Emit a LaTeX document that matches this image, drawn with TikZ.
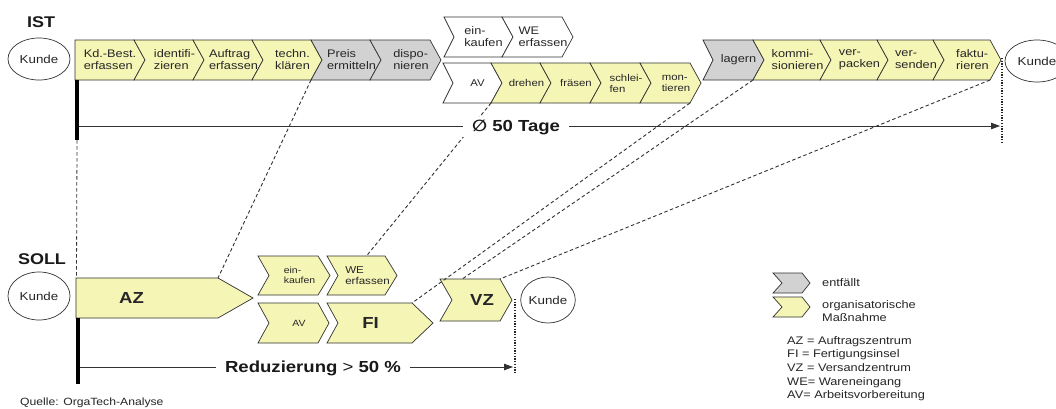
\documentclass[tikz,border=0pt]{standalone}
\usepackage{fontspec}
\setmainfont{Liberation Sans}[FakeStretch=1.16]
\newfontfamily\symfont{DejaVu Sans}[FakeStretch=1.1]
\usetikzlibrary{arrows.meta,calc,shapes.geometric}
\definecolor{chevY}{RGB}{245,245,182}
\definecolor{chevG}{RGB}{210,210,210}
\definecolor{edgeC}{RGB}{50,50,50}
% #1 name, #2 x left, #3 x right, #4 y centre, #5 half height, #6 tip depth, #7 notch depth, #8 style, #9 text
\newcommand{\mkchev}[9]{%
  \coordinate (#1-tl) at (#2,#4-#5);
  \coordinate (#1-tr) at (#3,#4-#5);
  \coordinate (#1-tip) at (#3+#6,#4);
  \coordinate (#1-br) at (#3,#4+#5);
  \coordinate (#1-bl) at (#2,#4+#5);
  \coordinate (#1-in) at (#2+#7,#4);
  \draw[#8] (#1-tl) -- (#1-tr) -- (#1-tip) -- (#1-br) -- (#1-bl) -- (#1-in) -- cycle;
  \node[ctext] (#1) at ($(#1-in)!0.5!(#1-tip)$) {#9};
}
\begin{document}
\begin{tikzpicture}[x=1pt,y=-1pt,
  chev/.style={draw=edgeC, line width=0.7pt, line join=miter},
  yel/.style={chev, fill=chevY},
  gry/.style={chev, fill=chevG},
  wht/.style={chev, fill=white},
  chevfont/.style={font=\fontsize{11}{12}\selectfont},
  ctextpos/.style={},
  ctext/.style={chevfont, ctextpos, align=left, inner sep=0pt, text=black!85},
  kunde/.style={draw=edgeC, line width=0.7pt, ellipse, inner sep=0pt, text=black!85, font=\fontsize{11.5}{13}\selectfont},
  conn/.style={draw=edgeC, line width=0.9pt, dash pattern=on 3.5pt off 2.5pt},
  dotv/.style={draw=black!85, line width=1.3pt, dash pattern=on 1.3pt off 1.4pt},
  timeline/.style={draw=edgeC, line width=0.8pt, -{Triangle[length=9pt,width=6.5pt]}},
  bar/.style={draw=black, line width=4pt},
  bigbold/.style={font=\fontsize{16}{18}\selectfont\bfseries, inner sep=0pt, text=black!90},
  legtext/.style={font=\fontsize{11}{13.7}\selectfont, align=left, inner sep=0pt, text=black!85}
]
\useasboundingbox (0,0) rectangle (1056,408);
\fill[white] (0,0) rectangle (1056,408);

% ---------------- IST ----------------
\node[bigbold, font=\fontsize{15.5}{18}\selectfont\bfseries] (ist) at (41,22) {IST};
\node[kunde, minimum width=62pt, minimum height=42pt] (kI1) at (39,59) {Kunde};

\mkchev{k1}{75}{134}{60}{20}{11}{0}{yel}{Kd.-Best.\\erfassen}
\mkchev{k2}{134}{193}{60}{20}{11}{11}{yel}{identifi-\\zieren}
\mkchev{k3}{193}{252}{60}{20}{11}{11}{yel}{Auftrag\\erfassen}
\mkchev{k4}{252}{311}{60}{20}{11}{11}{yel}{techn.\\klären}
\mkchev{k5}{311}{370}{60}{20}{11}{11}{gry}{Preis\\ermitteln}
\mkchev{k6}{370}{430}{60}{20}{11}{11}{gry}{dispo-\\nieren}

\mkchev{b1}{444}{502}{37}{20}{11}{10}{wht}{ein-\\kaufen}
\mkchev{b2}{502}{562}{37}{20}{11}{11}{wht}{WE\\erfassen}

\begin{scope}[chevfont/.style={font=\fontsize{9.8}{11}\selectfont}]
\mkchev{c1}{443}{491}{83}{20}{11}{10}{wht}{AV}
\mkchev{c2}{491}{540}{83}{20}{11}{11}{yel}{drehen}
\mkchev{c3}{540}{590}{83}{20}{11}{11}{yel}{fräsen}
\mkchev{c4}{590}{640}{83}{20}{11}{11}{yel}{schlei-\\fen}
\mkchev{c5}{640}{690}{83}{20}{11}{11}{yel}{mon-\\tieren}
\end{scope}

\mkchev{r1}{703}{753}{60}{20}{11}{10}{gry}{lagern}
\mkchev{r2}{753}{820}{60}{20}{11}{11}{yel}{kommi-\\sionieren}
\mkchev{r3}{820}{877}{60}{20}{11}{11}{yel}{ver-\\packen}
\mkchev{r4}{877}{933}{60}{20}{11}{11}{yel}{ver-\\senden}
\mkchev{r5}{933}{990}{60}{20}{11}{11}{yel}{faktu-\\rieren}

\node[kunde, minimum width=64pt, minimum height=42pt] (kI2) at (1037,61) {Kunde};

% ---------------- SOLL ----------------
\node[bigbold, font=\fontsize{15.5}{18}\selectfont\bfseries] (soll) at (42,259) {SOLL};
\node[kunde, minimum width=62pt, minimum height=48pt] (kS1) at (39,296) {Kunde};

\begin{scope}[chevfont/.style={font=\fontsize{16}{18}\selectfont\bfseries}, ctextpos/.style={xshift=-33pt}]
\mkchev{az}{76}{218}{298}{20}{35}{0}{yel}{AZ}
\end{scope}
\begin{scope}[chevfont/.style={font=\fontsize{9}{10.5}\selectfont}]
\mkchev{s1}{258}{318}{275.5}{19.5}{12}{11}{yel}{ein-\\kaufen}
\mkchev{s3}{258}{318}{323}{20}{11}{11}{yel}{AV}
\end{scope}
\begin{scope}[chevfont/.style={font=\fontsize{10}{11.5}\selectfont}]
\mkchev{s2}{327}{385}{275.5}{19.5}{12}{11}{yel}{WE\\erfassen}
\end{scope}
\begin{scope}[chevfont/.style={font=\fontsize{16}{18}\selectfont\bfseries}]
\begin{scope}[ctextpos/.style={xshift=-15pt}]
\mkchev{fi}{327}{412}{323}{20}{21}{11}{yel}{FI}
\end{scope}
\mkchev{vz}{440}{500}{300}{21}{12}{12}{yel}{VZ}
\end{scope}

\node[kunde, minimum width=50pt, minimum height=46pt] (kS2) at (548,300) {Kunde};

% ---------------- connectors ----------------
\draw[conn] (k4-br) -- (az-tr);
\draw[conn] (c1-br) -- ($(s2-tl)!0.68!(s2-tr)$);
\draw[conn] (c5-br) -- (fi-tr);
\draw[conn] (r1-br) -- ($(vz-tl)!0.37!(vz-tr)$);
\draw[conn] (r5-br) -- (vz-tr);

% bars and vertical lines
\coordinate (barIt) at (77,80);
\coordinate (barIb) at (77,140);
\coordinate (dashSe) at (76.5,278);
\coordinate (barSt) at (78,318);
\coordinate (barSb) at (78,384);
\draw[bar] (barIt) -- (barIb);
\draw[conn, line width=0.8pt] (barIb) -- (dashSe);
\draw[bar] (barSt) -- (barSb);

\coordinate (dotIt) at (1002,58);
\coordinate (dotIb) at (1002,144);
\draw[dotv] (dotIt) -- (dotIb);
\coordinate (dotSt) at (515,299);
\coordinate (dotSb) at (515,373);
\draw[dotv] (dotSt) -- (dotSb);

% time lines
\coordinate (tlIa) at (79,126);
\coordinate (tlIb) at (1000,126);
\draw[timeline] (tlIa) -- (tlIb);
\node[bigbold, fill=white, inner xsep=9pt, inner ysep=3pt] (tage) at (516,127) {{\symfont\bfseries ∅} 50 Tage};

\coordinate (tlSa) at (80,367);
\coordinate (tlSb) at (513,367);
\draw[timeline] (tlSa) -- (tlSb);
\node[bigbold, fill=white, inner xsep=9pt, inner ysep=3pt] (redu) at (313,368) {Reduzierung {\mdseries >} 50 \%};

% ---------------- legend ----------------
\mkchev{lg1}{773}{802}{283}{10}{8}{9}{gry}{}
\mkchev{lg2}{773}{802}{307}{10}{8}{9}{yel}{}
\node[legtext, anchor=west] (lgt1) at (822,283) {entfällt};
\node[legtext, anchor=west, font=\fontsize{11}{13}\selectfont] (lgt2) at (822,311.5) {organisatorische\\Maßnahme};
\node[legtext, anchor=north west] (abbr) at (787,336) {AZ = Auftragszentrum\\FI = Fertigungsinsel\\VZ = Versandzentrum\\WE= Wareneingang\\AV= Arbeitsvorbereitung};

\node[legtext, anchor=base west, font=\fontsize{10.5}{12}\selectfont] (quelle) at (20,405) {Quelle: OrgaTech-Analyse};
\end{tikzpicture}
\end{document}
